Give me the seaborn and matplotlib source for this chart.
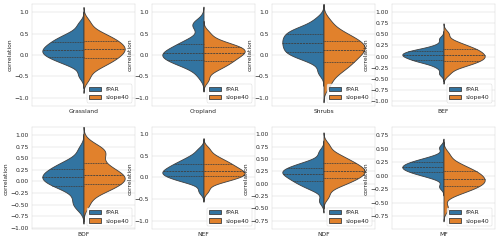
import numpy as np
import pandas as pd
import matplotlib
matplotlib.use('Agg')
import matplotlib.pyplot as plt
import seaborn as sns

# land cover classes, one panel each
classes = ['Grassland', 'Cropland', 'Shrubs', 'BEF', 'BDF', 'NEF', 'NDF', 'MF']
series = ['fPAR', 'slope40']

# correlation samples (25 sorted values per class / series)
fpar = {
    'Grassland': [-0.48, -0.27, -0.20, -0.15, -0.11, -0.07, -0.05, -0.01, 0.02, 0.04, 0.07, 0.09, 0.12,
                  0.15, 0.18, 0.21, 0.23, 0.27, 0.31, 0.34, 0.38, 0.42, 0.48, 0.55, 0.72],
    'Cropland': [-0.50, -0.33, -0.27, -0.22, -0.18, -0.14, -0.12, -0.08, -0.06, -0.03, -0.01, 0.02, 0.04,
                 0.07, 0.10, 0.13, 0.16, 0.20, 0.25, 0.29, 0.34, 0.42, 0.64, 0.71, 0.78],
    'Shrubs': [-0.40, -0.17, -0.09, -0.04, 0.00, 0.04, 0.07, 0.10, 0.14, 0.18, 0.21, 0.25, 0.28,
               0.31, 0.35, 0.38, 0.42, 0.45, 0.49, 0.52, 0.56, 0.60, 0.64, 0.71, 0.85],
    'BEF': [-0.38, -0.24, -0.17, -0.13, -0.11, -0.09, -0.07, -0.05, -0.03, -0.02, 0.00, 0.02, 0.03,
            0.04, 0.06, 0.07, 0.08, 0.10, 0.12, 0.13, 0.15, 0.17, 0.20, 0.26, 0.40],
    'BDF': [-0.58, -0.47, -0.38, -0.24, -0.17, -0.12, -0.09, -0.05, -0.02, 0.01, 0.04, 0.06, 0.09,
            0.12, 0.14, 0.17, 0.20, 0.23, 0.27, 0.30, 0.34, 0.38, 0.44, 0.51, 0.70],
    'NEF': [-0.32, -0.14, -0.09, -0.06, -0.02, 0.00, 0.02, 0.05, 0.07, 0.09, 0.11, 0.13, 0.15,
            0.17, 0.20, 0.22, 0.25, 0.27, 0.31, 0.33, 0.37, 0.41, 0.46, 0.52, 0.64],
    'NDF': [-0.35, -0.14, -0.08, -0.04, 0.00, 0.03, 0.05, 0.09, 0.11, 0.13, 0.16, 0.18, 0.20,
            0.22, 0.24, 0.26, 0.27, 0.29, 0.32, 0.34, 0.37, 0.39, 0.43, 0.48, 0.64],
    'MF': [-0.20, -0.05, -0.01, 0.02, 0.04, 0.06, 0.07, 0.09, 0.11, 0.12, 0.13, 0.15, 0.16,
           0.17, 0.19, 0.20, 0.21, 0.23, 0.25, 0.26, 0.28, 0.30, 0.33, 0.37, 0.52],
}
slope40 = {
    'Grassland': [-0.55, -0.35, -0.27, -0.20, -0.16, -0.11, -0.08, -0.03, 0.00, 0.03, 0.07, 0.10, 0.13,
                  0.16, 0.19, 0.22, 0.25, 0.29, 0.33, 0.36, 0.41, 0.45, 0.51, 0.60, 0.78],
    'Cropland': [-0.58, -0.39, -0.32, -0.26, -0.22, -0.18, -0.15, -0.11, -0.07, -0.05, -0.02, 0.01, 0.04,
                 0.06, 0.08, 0.11, 0.13, 0.15, 0.18, 0.20, 0.23, 0.27, 0.31, 0.38, 0.52],
    'Shrubs': [-0.71, -0.51, -0.40, -0.32, -0.26, -0.20, -0.16, -0.10, -0.05, -0.01, 0.03, 0.07, 0.11,
               0.14, 0.18, 0.21, 0.25, 0.28, 0.33, 0.36, 0.41, 0.47, 0.53, 0.62, 0.80],
    'BEF': [-0.38, -0.26, -0.21, -0.18, -0.14, -0.12, -0.10, -0.07, -0.05, -0.03, -0.01, 0.01, 0.03,
            0.05, 0.07, 0.10, 0.12, 0.14, 0.17, 0.19, 0.22, 0.26, 0.30, 0.36, 0.52],
    'BDF': [-0.50, -0.29, -0.22, -0.16, -0.12, -0.08, -0.05, -0.01, 0.03, 0.05, 0.08, 0.11, 0.14,
            0.17, 0.21, 0.25, 0.30, 0.35, 0.40, 0.50, 0.58, 0.63, 0.67, 0.72, 0.82],
    'NEF': [-0.30, -0.14, -0.09, -0.05, -0.03, 0.00, 0.02, 0.05, 0.07, 0.08, 0.10, 0.12, 0.14,
            0.17, 0.19, 0.22, 0.24, 0.27, 0.31, 0.33, 0.37, 0.41, 0.46, 0.53, 0.66],
    'NDF': [-0.25, -0.08, -0.02, 0.02, 0.06, 0.09, 0.11, 0.15, 0.17, 0.19, 0.22, 0.24, 0.26,
            0.28, 0.31, 0.33, 0.36, 0.38, 0.42, 0.44, 0.48, 0.52, 0.57, 0.63, 0.78],
    'MF': [-0.60, -0.36, -0.30, -0.27, -0.23, -0.21, -0.19, -0.16, -0.14, -0.12, -0.10, -0.08, -0.06,
           -0.04, -0.02, 0.01, 0.03, 0.05, 0.08, 0.10, 0.13, 0.17, 0.21, 0.27, 0.40],
}

# axis ranges and tick sets per panel
ylims = {
    'Grassland': (-1.19, 1.19), 'Cropland': (-1.19, 1.19), 'Shrubs': (-1.19, 1.19),
    'BEF': (-1.10, 1.18), 'BDF': (-1.03, 1.17), 'NEF': (-1.19, 1.15),
    'NDF': (-0.92, 1.14), 'MF': (-0.98, 0.89),
}
ticks_half = [-1.0, -0.5, 0.0, 0.5, 1.0]
ticks_q = [-1.0, -0.75, -0.5, -0.25, 0.0, 0.25, 0.5, 0.75, 1.0]
yticks = {
    'Grassland': ticks_half, 'Cropland': ticks_half, 'Shrubs': ticks_half, 'NEF': ticks_half,
    'BEF': ticks_q, 'BDF': ticks_q, 'NDF': ticks_q[1:], 'MF': ticks_q[1:-1],
}

sns.set_style('whitegrid')
plt.rcParams['font.size'] = 13

fig, axes = plt.subplots(2, 4, figsize=(15, 7.2))
fig.subplots_adjust(left=0.064, right=0.99, bottom=0.046, top=0.983, wspace=0.165, hspace=0.215)

for ax, lc in zip(axes.flat, classes):
    df = pd.DataFrame({
        'landcover': lc,
        'variable': ['fPAR'] * len(fpar[lc]) + ['slope40'] * len(slope40[lc]),
        'correlation': fpar[lc] + slope40[lc],
    })
    sns.violinplot(data=df, x='landcover', y='correlation', hue='variable', hue_order=series,
                   split=True, inner='quart', bw_adjust=0.7, cut=3, linewidth=1.8,
                   palette=['tab:blue', 'tab:orange'], ax=ax)
    ax.set_xlabel('')
    ax.set_ylim(*ylims[lc])
    ax.set_yticks(yticks[lc])
    sns.move_legend(ax, 'lower right', title=None)

fig.savefig('out.png', dpi=500 / 15)
